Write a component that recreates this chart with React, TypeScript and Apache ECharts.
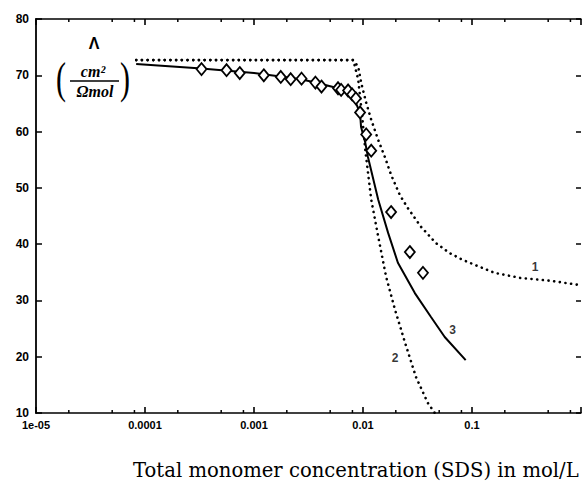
import React, { useEffect, useRef } from "react";
import * as echarts from "echarts";

// ---- data ----
const xTickLabels: Record<string, string> = {
  "0.00001": "1e-05",
  "0.0001": "0.0001",
  "0.001": "0.001",
  "0.01": "0.01",
  "0.1": "0.1",
  "1": "",
};

const minorTickValues = [
  2e-5, 5e-5, 8e-5, 2e-4, 5e-4, 8e-4, 2e-3, 5e-3, 8e-3, 2e-2, 5e-2, 8e-2, 2e-1, 5e-1, 8e-1,
];

// curve 1 (dotted, upper)
const curve1: [number, number][] = [
  [8.3e-5, 72.7], [0.00815, 72.7], [0.00904, 71.5], [0.00964, 68.6], [0.0107, 65.1],
  [0.0119, 62.1], [0.0138, 58.5], [0.016, 55.3], [0.0181, 52.3], [0.0218, 48.7],
  [0.0258, 46.4], [0.034, 43.1], [0.0466, 40.2], [0.0625, 38.4], [0.0821, 37.2],
  [0.161, 34.9], [0.277, 34.0], [0.521, 33.5], [0.92, 32.8],
];

// curve 2 (dotted, steep)
const curve2: [number, number][] = [
  [8.3e-5, 72.7], [0.00815, 72.7], [0.00904, 69.2], [0.0098, 63.0], [0.0105, 56.7],
  [0.0119, 47.9], [0.0138, 41.3], [0.0163, 34.2], [0.0197, 28.3], [0.0243, 22.5],
  [0.0306, 16.4], [0.0393, 11.8], [0.0456, 10.0],
];

// curve 3 (solid)
const curve3: [number, number][] = [
  [8.3e-5, 72.0], [3.3e-4, 71.2], [1e-3, 70.4], [2.7e-3, 69.3], [3.9e-3, 68.6],
  [5.9e-3, 67.7], [7.8e-3, 66.5], [8.6e-3, 65.1], [9.4e-3, 63.3], [9.6e-3, 60.8],
  [0.0105, 58.0], [0.0111, 55.5], [0.0138, 47.9], [0.017, 42.0], [0.0209, 36.7],
  [0.0299, 31.3], [0.0419, 27.1], [0.0562, 23.5], [0.0875, 19.4],
];

// measured points (diamonds)
const measured: [number, number][] = [
  [3.3e-4, 71.1], [5.6e-4, 70.9], [7.4e-4, 70.4], [1.23e-3, 70.0], [1.76e-3, 69.7],
  [2.17e-3, 69.3], [2.73e-3, 69.4], [3.66e-3, 68.7], [4.16e-3, 68.0], [5.9e-3, 67.7],
  [6.3e-3, 67.4], [7.3e-3, 67.3], [7.95e-3, 66.6], [8.6e-3, 65.9], [9.4e-3, 63.4],
  [0.0107, 59.5], [0.0119, 56.6], [0.0181, 45.7], [0.0269, 38.6], [0.0355, 34.9],
];

const curveLabels: [number, number, string][] = [
  [0.38, 36.0, "1"],
  [0.0197, 19.8, "2"],
  [0.0665, 24.8, "3"],
];

const xAxisTitle = "Total monomer concentration (SDS) in mol/L";

export default function App() {
  const ref = useRef<HTMLDivElement>(null);

  useEffect(() => {
    if (!ref.current) return;
    const chart = echarts.init(ref.current, null, { renderer: "svg" });

    const fmtX = (v: number) => {
      const key = String(Number(v.toPrecision(6)));
      const k2 = v < 1e-4 ? "0.00001" : key;
      return xTickLabels[k2] ?? "";
    };

    const baseX = {
      type: "log" as const,
      logBase: 10,
      min: 1e-5,
      max: 1,
      splitLine: { show: false },
      axisLine: { show: true, lineStyle: { color: "#000", width: 1.5 } },
      axisTick: { show: true, inside: true, length: 6, lineStyle: { color: "#000", width: 1.6 } },
    };

    const dotted = { color: "#000", width: 2.6, type: [0.1, 5.6], cap: "round" };

    const option: any = {
      animation: false,
      backgroundColor: "#fff",
      grid: { left: 36, right: 0, top: 19, bottom: 70, containLabel: false },
      xAxis: [
        {
          ...baseX,
          position: "bottom",
          axisLabel: {
            show: true,
            color: "#000",
            fontFamily: "Liberation Sans",
            fontWeight: "bold",
            fontSize: 11,
            margin: 6,
            formatter: fmtX,
          },
        },
        {
          ...baseX,
          position: "top",
          axisLabel: { show: false },
        },
      ],
      yAxis: [
        {
          type: "value",
          min: 10,
          max: 80,
          interval: 10,
          splitLine: { show: false },
          axisLine: { show: true, lineStyle: { color: "#000", width: 1.8 } },
          axisTick: { show: true, inside: true, length: 6, lineStyle: { color: "#000", width: 1.5 } },
          axisLabel: {
            color: "#000",
            fontFamily: "Liberation Sans",
            fontWeight: "bold",
            fontSize: 12,
            margin: 7,
          },
        },
        {
          type: "value",
          min: 10,
          max: 80,
          interval: 10,
          position: "right",
          splitLine: { show: false },
          axisLine: { show: false },
          axisTick: { show: true, inside: true, length: 5, lineStyle: { color: "#000", width: 1.5 } },
          axisLabel: { show: false },
        },
      ],
      series: [
        {
          type: "custom",
          xAxisIndex: 0,
          yAxisIndex: 0,
          silent: true,
          clip: false,
          data: minorTickValues.map((v) => [v, 10]),
          renderItem: (params: any, api: any) => {
            const x = api.value(0);
            const pb = api.coord([x, 10]);
            const pt = api.coord([x, 80]);
            return {
              type: "group",
              children: [
                { type: "line", shape: { x1: pb[0], y1: pb[1], x2: pb[0], y2: pb[1] - 3 }, style: { stroke: "#000", lineWidth: 1.5 } },
                { type: "line", shape: { x1: pt[0], y1: pt[1], x2: pt[0], y2: pt[1] + 3 }, style: { stroke: "#000", lineWidth: 1.5 } },
              ],
            };
          },
        },
        {
          type: "line",
          data: curve1,
          symbol: "none",
          lineStyle: dotted,
          z: 2,
        },
        {
          type: "line",
          data: curve2,
          symbol: "none",
          lineStyle: dotted,
          z: 2,
        },
        {
          type: "line",
          data: curve3,
          symbol: "none",
          lineStyle: { color: "#000", width: 2 },
          z: 3,
        },
        {
          type: "scatter",
          data: measured,
          symbol: "diamond",
          symbolSize: [10, 12],
          itemStyle: { color: "#fff", borderColor: "#000", borderWidth: 1.8, opacity: 1 },
          z: 4,
        },
        {
          type: "scatter",
          data: curveLabels.map((d) => [d[0], d[1], d[2]]),
          symbolSize: 0,
          label: {
            show: true,
            position: "inside",
            formatter: (p: any) => p.value[2],
            color: "#000",
            fontFamily: "Liberation Sans",
            fontWeight: "bold",
            fontSize: 12,
          },
          z: 5,
        },
      ],
      graphic: [
        {
          type: "text",
          left: 133,
          top: 460,
          style: {
            text: xAxisTitle,
            fill: "#000",
            font: "19.6px 'DejaVu Serif'",
          },
        },
        {
          type: "text",
          x: 94,
          y: 43,
          style: {
            text: "Λ",
            fill: "#000",
            font: "bold 16px 'Liberation Sans'",
            align: "center",
            verticalAlign: "middle",
          },
        },
        {
          type: "text",
          x: 61,
          y: 78,
          scaleY: 1.5,
          style: {
            text: "(",
            fill: "#000",
            font: "30px 'Liberation Serif'",
            align: "center",
            verticalAlign: "middle",
          },
        },
        {
          type: "text",
          x: 125,
          y: 78,
          scaleY: 1.5,
          style: {
            text: ")",
            fill: "#000",
            font: "30px 'Liberation Serif'",
            align: "center",
            verticalAlign: "middle",
          },
        },
        {
          type: "text",
          x: 93,
          y: 71,
          style: {
            text: "cm²",
            fill: "#000",
            font: "italic bold 16px 'Liberation Serif'",
            align: "center",
            verticalAlign: "middle",
          },
        },
        {
          type: "line",
          shape: { x1: 70, y1: 81, x2: 119, y2: 81 },
          style: { stroke: "#000", lineWidth: 1.5 },
        },
        {
          type: "text",
          x: 95,
          y: 91,
          style: {
            text: "Ωmol",
            fill: "#000",
            font: "italic bold 16px 'Liberation Serif'",
            align: "center",
            verticalAlign: "middle",
          },
        },
      ],
    };

    chart.setOption(option);
    return () => chart.dispose();
  }, []);

  return (
    <div
      ref={ref}
      style={{ position: "absolute", left: 0, top: 0, width: 584, height: 483, background: "#fff" }}
    />
  );
}
